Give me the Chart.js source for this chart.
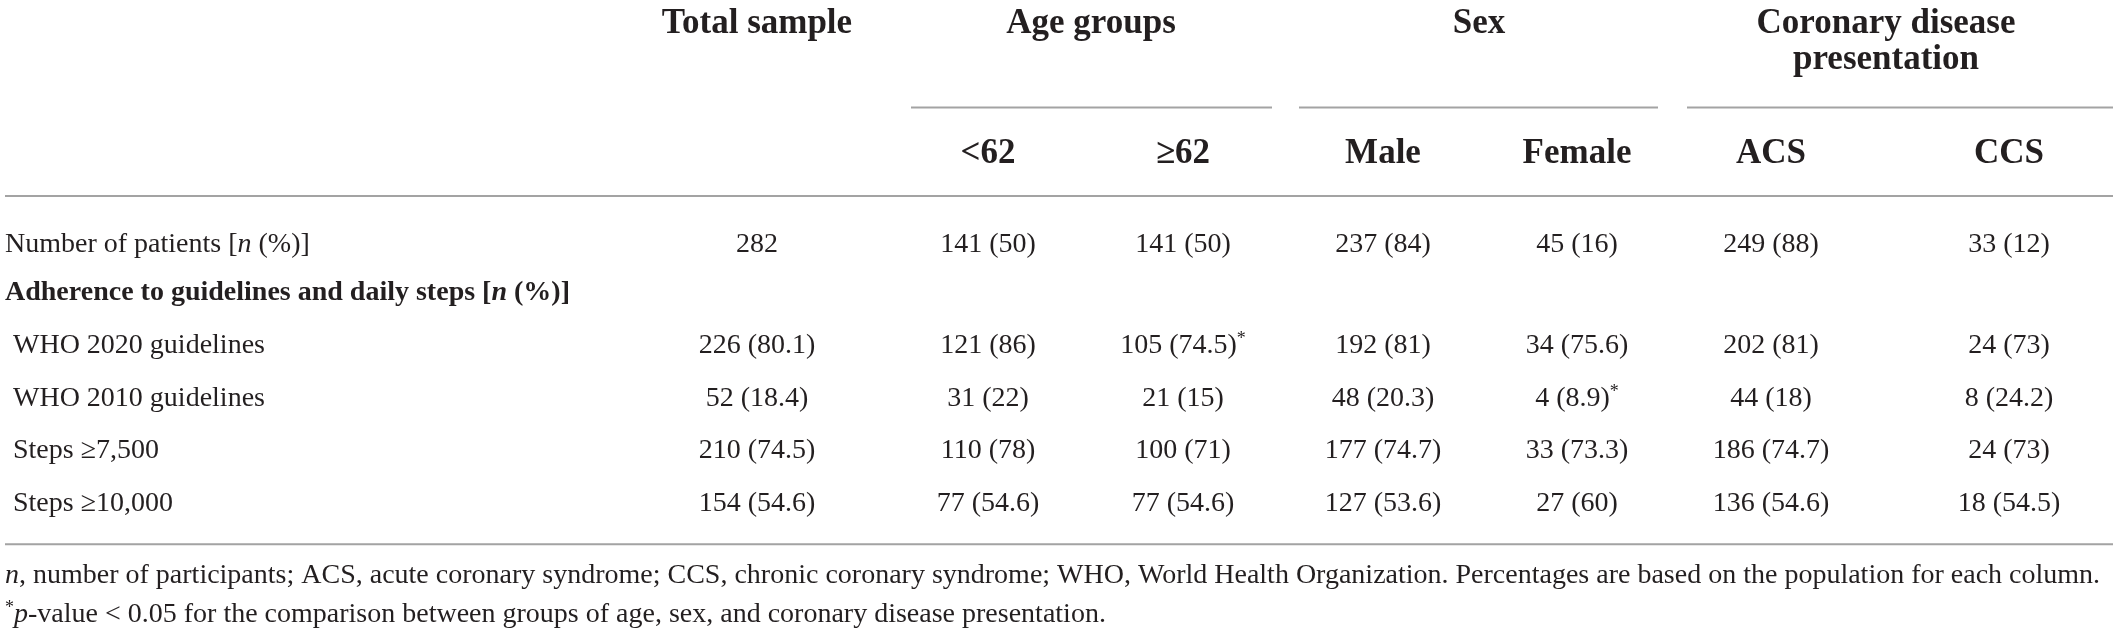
<!DOCTYPE html>
<html>
<head>
<meta charset="utf-8">
<script src="https://cdn.jsdelivr.net/npm/chart.js@4.4.1/dist/chart.umd.min.js"></script>
<style>
  html, body { margin: 0; padding: 0; background: #fff; }
  canvas { display: block; }
</style>
</head>
<body>
<canvas id="tbl" width="2117" height="635"></canvas>
<script>
// table content
const groups = ['Total sample', 'Age groups', 'Sex', 'Coronary disease', 'presentation'];
const subgroups = ['<62', '≥62', 'Male', 'Female', 'ACS', 'CCS'];
const rowLabels = [
  'Number of patients [_n_ (%)]',
  'Adherence to guidelines and daily steps [_n_ (%)]',
  'WHO 2020 guidelines',
  'WHO 2010 guidelines',
  'Steps ≥7,500',
  'Steps ≥10,000'
];
// columns: total, <62, >=62, male, female, ACS, CCS
const patients = [282, 141, 141, 237, 45, 249, 33];
const patientsPct = [null, 50, 50, 84, 16, 88, 12];
const who2020 = [226, 121, 105, 192, 34, 202, 24];
const who2020Pct = [80.1, 86, 74.5, 81, 75.6, 81, 73];
const who2010 = [52, 31, 21, 48, 4, 44, 8];
const who2010Pct = [18.4, 22, 15, 20.3, 8.9, 18, 24.2];
const steps7500 = [210, 110, 100, 177, 33, 186, 24];
const steps7500Pct = [74.5, 78, 71, 74.7, 73.3, 74.7, 73];
const steps10000 = [154, 77, 77, 127, 27, 136, 18];
const steps10000Pct = [54.6, 54.6, 54.6, 53.6, 60, 54.6, 54.5];
// p < 0.05 flags
const who2020Sig = [false, false, true, false, false, false, false];
const who2010Sig = [false, false, false, false, true, false, false];
const footnotes = [
  '_n_, number of participants; ACS, acute coronary syndrome; CCS, chronic coronary syndrome; WHO, World Health Organization. Percentages are based on the population for each column.',
  '^*^_p_-value < 0.05 for the comparison between groups of age, sex, and coronary disease presentation.'
];

// layout (x in px along the x scale, y in row units along the y scale)
const colX = [757, 988, 1183, 1383, 1577, 1771, 2009];
const groupX = [757, 1091, 1479, 1886, 1886];
const groupY = [-4.23, -4.23, -4.23, -4.23, -3.54];
const groupLines = [[911, 1272], [1299, 1658], [1687, 2113]];
const subY = -1.71;
const rowY = [0, 0.93, 1.95, 2.97, 3.98, 5.0];
const ruleY = [-2.79, -1.08, 5.64];
const footY = [6.39, 7.14];
const ROW = 51.8;

const INK = '#231f20';
const RULE = '#a3a3a3';
const SERIF = '"Liberation Serif", "DejaVu Serif", serif';

function fmt(n, p, sig) {
  let s = p === null ? String(n) : n + ' (' + p + ')';
  return sig ? s + '^*^' : s;
}

const bodyRows = [
  patients.map((v, i) => fmt(v, patientsPct[i], false)),
  null,
  who2020.map((v, i) => fmt(v, who2020Pct[i], who2020Sig[i])),
  who2010.map((v, i) => fmt(v, who2010Pct[i], who2010Sig[i])),
  steps7500.map((v, i) => fmt(v, steps7500Pct[i], false)),
  steps10000.map((v, i) => fmt(v, steps10000Pct[i], false))
];

function parse(str) {
  return str.split(/(_[^_]+_|\^[^^]+\^)/).filter(s => s.length).map(s => {
    if (s[0] === '_') return { t: s.slice(1, -1), it: true };
    if (s[0] === '^') return { t: s.slice(1, -1), sup: true };
    return { t: s };
  });
}

function fontFor(seg, size, bold) {
  let sz = seg.sup ? Math.round(size * 0.65) : size;
  return (seg.it ? 'italic ' : '') + (bold ? 'bold ' : '') + sz + 'px ' + SERIF;
}

function drawRich(ctx, str, x, y, align, size, bold) {
  const segs = parse(str);
  const w = segs.map(s => { ctx.font = fontFor(s, size, bold); return ctx.measureText(s.t).width; });
  const total = w.reduce((a, b) => a + b, 0);
  let cx = align === 'center' ? x - total / 2 : x;
  segs.forEach((s, i) => {
    ctx.font = fontFor(s, size, bold);
    ctx.fillText(s.t, cx, s.sup ? y - size * 0.32 : y);
    cx += w[i];
  });
}

const tablePlugin = {
  id: 'tablePlugin',
  afterDraw(chart) {
    const ctx = chart.ctx;
    const xs = chart.scales.x, ys = chart.scales.y;
    const X = v => xs.getPixelForValue(v);
    const Y = v => ys.getPixelForValue(v);
    ctx.save();
    ctx.fillStyle = INK;
    ctx.textBaseline = 'alphabetic';
    ctx.textAlign = 'left';

    // column group headers
    groups.forEach((g, i) => drawRich(ctx, g, X(groupX[i]), Y(groupY[i]), 'center', 35, true));
    subgroups.forEach((g, i) => drawRich(ctx, g, X(colX[i + 1]), Y(subY), 'center', 35, true));

    // rules
    ctx.strokeStyle = RULE;
    ctx.lineWidth = 2;
    ctx.beginPath();
    groupLines.forEach(([a, b]) => { ctx.moveTo(X(a), Y(ruleY[0])); ctx.lineTo(X(b), Y(ruleY[0])); });
    [ruleY[1], ruleY[2]].forEach(r => { ctx.moveTo(X(5), Y(r)); ctx.lineTo(X(2113), Y(r)); });
    ctx.stroke();

    // body
    rowLabels.forEach((lab, r) => {
      const bold = r === 1;
      const lx = r < 2 ? 5 : 13;
      drawRich(ctx, lab, X(lx), Y(rowY[r]), 'left', 28, bold);
      if (bodyRows[r]) {
        bodyRows[r].forEach((cell, c) => drawRich(ctx, cell, X(colX[c]), Y(rowY[r]), 'center', 28, false));
      }
    });

    footnotes.forEach((f, i) => drawRich(ctx, f, X(5), Y(footY[i]), 'left', 28, false));
    ctx.restore();
  }
};

new Chart(document.getElementById('tbl'), {
  type: 'scatter',
  data: { datasets: [] },
  plugins: [tablePlugin],
  options: {
    responsive: false,
    animation: false,
    devicePixelRatio: 1,
    layout: { padding: 0 },
    plugins: { legend: { display: false }, tooltip: { enabled: false } },
    scales: {
      x: { type: 'linear', min: 0, max: 2117, display: false },
      y: { type: 'linear', min: -252 / ROW, max: (635 - 252) / ROW, reverse: true, display: false }
    }
  }
});
</script>
</body>
</html>
